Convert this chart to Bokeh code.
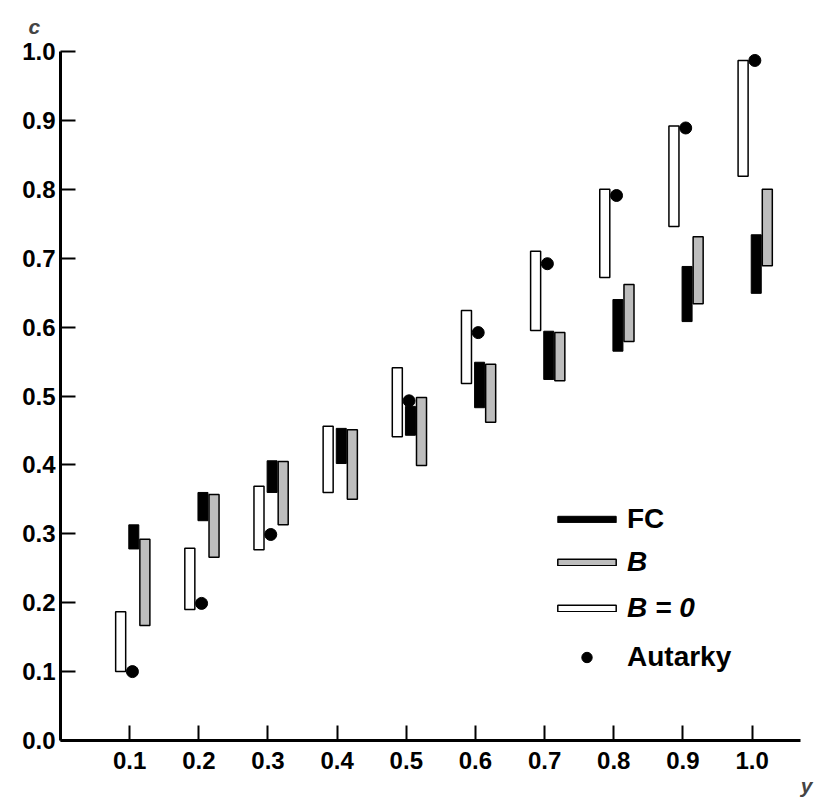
import math
from bokeh.plotting import figure
from bokeh.models import (Range1d, FixedTicker, PrintfTickFormatter, Legend,
                          LegendItem, Title, ColumnDataSource)
from bokeh.embed import file_html
from bokeh.resources import INLINE

# ---- data ----
y_vals = [0.1, 0.2, 0.3, 0.4, 0.5, 0.6, 0.7, 0.8, 0.9, 1.0]
fc_low = [0.278, 0.319, 0.360, 0.402, 0.443, 0.483, 0.524, 0.565, 0.608, 0.649]
fc_high = [0.313, 0.360, 0.406, 0.453, 0.485, 0.549, 0.594, 0.640, 0.688, 0.734]
b_low = [0.167, 0.266, 0.313, 0.350, 0.399, 0.462, 0.522, 0.579, 0.634, 0.689]
b_high = [0.292, 0.357, 0.405, 0.451, 0.498, 0.546, 0.592, 0.662, 0.731, 0.800]
b0_low = [0.100, 0.190, 0.277, 0.360, 0.441, 0.518, 0.595, 0.672, 0.746, 0.819]
b0_high = [0.187, 0.279, 0.369, 0.456, 0.541, 0.624, 0.710, 0.800, 0.892, 0.987]
autarky = [0.100, 0.199, 0.299, float("nan"), 0.493, 0.592, 0.692, 0.791, 0.889, 0.987]

x_ticks = [0.1, 0.2, 0.3, 0.4, 0.5, 0.6, 0.7, 0.8, 0.9, 1.0]
y_ticks = [0.0, 0.1, 0.2, 0.3, 0.4, 0.5, 0.6, 0.7, 0.8, 0.9, 1.0]

# ---- layout offsets (dodge) ----
bar_w = 0.0145
off_b0, off_fc, off_b, off_dot = -0.013, 0.006, 0.022, 0.004

FONT = "Liberation Sans"

p = figure(width=814, height=806, frame_width=740, frame_height=689,
           min_border_left=60, min_border_right=14, min_border_top=51,
           min_border_bottom=66, output_backend="svg", toolbar_location=None,
           x_range=Range1d(0, 1.07), y_range=Range1d(0, 1.0))
p.outline_line_color = None
p.xgrid.visible = False
p.ygrid.visible = False
p.background_fill_color = "white"
p.border_fill_color = "white"

def centers(off):
    return [v + off for v in y_vals]

src = ColumnDataSource(dict(
    xb0=centers(off_b0), xfc=centers(off_fc), xb=centers(off_b), xd=centers(off_dot),
    fc_low=fc_low, fc_high=fc_high, b_low=b_low, b_high=b_high,
    b0_low=b0_low, b0_high=b0_high, aut=autarky))

r_b0 = p.vbar(x="xb0", width=bar_w, bottom="b0_low", top="b0_high", source=src,
              fill_color="white", line_color="black", line_width=1.5)
r_dot = p.scatter(x="xd", y="aut", source=src, size=12, marker="circle",
                  fill_color="black", line_color="black")
r_fc = p.vbar(x="xfc", width=bar_w, bottom="fc_low", top="fc_high", source=src,
              fill_color="black", line_color="black", line_width=1)
r_b = p.vbar(x="xb", width=bar_w, bottom="b_low", top="b_high", source=src,
             fill_color="#bdbdbd", line_color="black", line_width=1.5)

for ax in (p.xaxis[0], p.yaxis[0]):
    ax.axis_line_width = 3
    ax.axis_line_color = "black"
    ax.major_tick_line_width = 2
    ax.major_tick_in = 15
    ax.major_tick_out = 0
    ax.minor_tick_line_color = None
    ax.major_label_text_font = FONT
    ax.major_label_text_font_style = "bold"
    ax.major_label_text_font_size = "24px"
    ax.major_label_text_color = "black"
    ax.formatter = PrintfTickFormatter(format="%.1f")

p.xaxis[0].ticker = FixedTicker(ticks=x_ticks)
p.yaxis[0].ticker = FixedTicker(ticks=y_ticks)
p.xaxis[0].major_label_standoff = 11
p.yaxis[0].major_label_standoff = 5


def make_legend(items, loc, style, gh):
    lg = Legend(items=items, location=loc, orientation="vertical")
    lg.glyph_width = 73
    lg.glyph_height = gh
    lg.label_height = 40
    lg.spacing = 6
    lg.padding = 0
    lg.margin = 0
    lg.label_standoff = 4
    lg.border_line_color = None
    lg.background_fill_alpha = 0
    lg.label_text_font = FONT
    lg.label_text_font_style = style
    lg.label_text_font_size = "28px"
    lg.label_text_color = "black"
    p.add_layout(lg, "center")


make_legend([LegendItem(label="FC", renderers=[r_fc])], (490, 201), "bold", 8)
make_legend([LegendItem(label="B", renderers=[r_b]),
             LegendItem(label="B = 0", renderers=[r_b0])], (490, 112),
            "bold italic", 8)
make_legend([LegendItem(label="Autarky", renderers=[r_dot])], (490, 63),
            "bold", 26)

# axis names as titles outside the frame
p.title.text = "c"
p.title.align = "left"
p.title.offset = -32
p.title.standoff = 24
p.title.vertical_align = "top"
p.title.text_font = FONT
p.title.text_font_style = "bold italic"
p.title.text_font_size = "21px"

ylab = Title(text="y", align="right", offset=-12, standoff=0,
             vertical_align="bottom",
             text_font=FONT, text_font_style="bold italic", text_font_size="21px")
p.add_layout(ylab, "below")

open("out.html", "w").write(file_html(p, INLINE))
